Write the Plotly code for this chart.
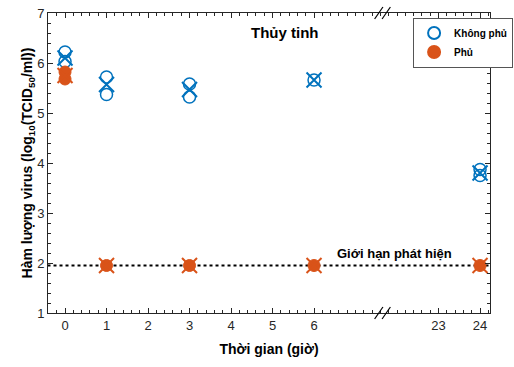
import plotly.graph_objects as go

# ---- data ----
tick_hours = [0, 1, 2, 3, 4, 5, 6, 23, 24]
# replicate measurements (circles)
uncoated_t = [0, 0, 1, 1, 3, 3, 6, 24, 24]
uncoated_v = [6.22, 6.03, 5.72, 5.37, 5.58, 5.32, 5.66, 3.87, 3.75]
coated_t = [0, 0, 1, 3, 6, 24]
coated_v = [5.82, 5.68, 1.95, 1.95, 1.95, 1.95]
# means (crosses)
uncoated_mean_t = [0, 1, 3, 6, 24]
uncoated_mean_v = [6.1, 5.57, 5.47, 5.66, 3.8]
coated_mean_t = [0, 1, 3, 6, 24]
coated_mean_v = [5.75, 1.95, 1.95, 1.95, 1.95]
detection_limit = 1.95

BLUE = "#0072BD"
ORANGE = "#D95319"


def pos(t):
    # broken axis: hours 23-24 are drawn right after the break
    return t if t <= 6 else t - 14


def P(ts):
    return [pos(t) for t in ts]


fig = go.Figure()

fig.add_trace(go.Scatter(
    x=[-1, 11], y=[detection_limit, detection_limit], mode="lines",
    line=dict(color="black", width=2, dash="dot"), showlegend=False, hoverinfo="skip"))

fig.add_trace(go.Scatter(
    x=P(uncoated_t), y=uncoated_v, mode="markers", name="<b>Không phủ</b>",
    marker=dict(symbol="circle-open", size=12, color=BLUE, line=dict(width=1.5, color=BLUE))))
fig.add_trace(go.Scatter(
    x=P(coated_t), y=coated_v, mode="markers", name="<b>Phủ</b>",
    marker=dict(symbol="circle", size=12, color=ORANGE, line=dict(width=1, color=ORANGE))))
fig.add_trace(go.Scatter(
    x=P(uncoated_mean_t), y=uncoated_mean_v, mode="markers", showlegend=False,
    marker=dict(symbol="x-thin-open", size=15, color=BLUE, line=dict(width=2, color=BLUE))))
fig.add_trace(go.Scatter(
    x=P(coated_mean_t), y=coated_mean_v, mode="markers", showlegend=False,
    marker=dict(symbol="x-thin-open", size=15, color=ORANGE, line=dict(width=2, color=ORANGE))))

# break marks on bottom and top axis
brk = 7.65
for yp in (0, 1):
    for dx in (-0.09, 0.09):
        fig.add_shape(type="line", xref="x", yref="paper",
                      x0=brk + dx - 0.1, x1=brk + dx + 0.1, y0=yp - 0.02, y1=yp + 0.02,
                      line=dict(color="black", width=1.2))

fig.add_annotation(x=pos(6) - 0.7, y=6.62, xref="x", yref="y", text="<b>Thủy tinh</b>",
                   showarrow=False, font=dict(size=15, color="black"))
fig.add_annotation(x=7.95, y=detection_limit, xref="x", yref="y",
                   text="<b>Giới hạn phát hiện</b>", showarrow=False, yanchor="bottom", yshift=3,
                   font=dict(size=13, color="black"))

axis_common = dict(ticks="inside", ticklen=5, tickcolor="#262626", showline=True,
                   linecolor="#262626", linewidth=1, mirror="ticks", showgrid=False,
                   zeroline=False, tickfont=dict(size=13, color="#262626"))

fig.update_layout(
    width=514, height=367,
    margin=dict(l=48, r=24, t=13, b=54, autoexpand=False),
    paper_bgcolor="white", plot_bgcolor="white",
    font=dict(family="Liberation Sans, Arial, sans-serif", color="black"),
    xaxis=dict(range=[-0.41, 10.24], tickmode="array", tickvals=P(tick_hours),
               ticktext=[str(h) for h in tick_hours],
               minor=dict(ticks="inside", ticklen=3, dtick=0.2, tick0=0, tickcolor="#262626"),
               title=dict(text="<b>Thời gian (giờ)</b>", font=dict(size=14), standoff=12),
               automargin=False, **axis_common),
    yaxis=dict(range=[1, 7], dtick=1,
               minor=dict(ticks="inside", ticklen=3, dtick=0.2, tickcolor="#262626"),
               title=dict(text="<b>Hàm lượng virus (log<sub>10</sub>(TCID<sub>50</sub>/ml))</b>",
                          font=dict(size=14), standoff=0),
               automargin=False, **axis_common),
    legend=dict(x=0.826, y=0.985, xanchor="left", yanchor="top", bgcolor="white",
                bordercolor="#555555", borderwidth=1, font=dict(size=10),
                itemwidth=30, tracegroupgap=0, itemsizing="constant"),
)

fig.write_html("out.html", config={"displayModeBar": False},
               post_script="document.body.style.margin='0';")
